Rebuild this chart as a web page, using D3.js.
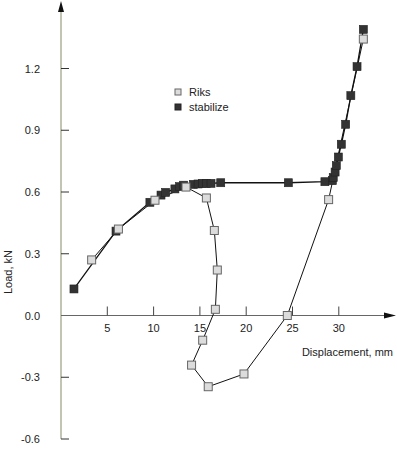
<!DOCTYPE html>
<html lang="en">
<head>
    <meta charset="UTF-8">
    <title>Load vs Displacement</title>
    <script src="https://d3js.org/d3.v7.min.js"></script>
    <style>
        body { margin: 0; background: #fff; }
        svg { display: block; font-family: 'Liberation Sans', Arial, sans-serif; }
    </style>
</head>
<body>
    <svg width="397" height="450"></svg>
    <script>
        // Riks path (displacement mm, load kN)
        const riksDisp = [3.31, 6.2, 10.15, 13.5, 15.7, 16.56, 16.88, 16.67, 15.3, 14.1, 15.9, 19.76, 24.44, 28.9, 32.65];
        const riksLoad = [0.27, 0.42, 0.56, 0.624, 0.571, 0.413, 0.221, 0.03, -0.12, -0.241, -0.346, -0.284, 0.0, 0.563, 1.343];

        // stabilize path
        const stabDisp = [1.4, 5.94, 9.6, 10.8, 11.3, 12.3, 12.8, 13.25, 14.3, 14.8, 15.3, 15.7, 16.2, 17.25, 24.55, 28.5, 29.3, 29.4, 29.6, 29.73, 29.95, 30.27, 30.74, 31.3, 31.97, 32.65];
        const stabLoad = [0.129, 0.41, 0.55, 0.585, 0.598, 0.615, 0.626, 0.633, 0.637, 0.639, 0.642, 0.642, 0.642, 0.645, 0.645, 0.65, 0.655, 0.67, 0.697, 0.728, 0.77, 0.832, 0.929, 1.068, 1.209, 1.39];

        const xTicks = [5, 10, 15, 20, 25, 30];
        const yTicks = [1.2, 0.9, 0.6, 0.3, 0.0, -0.3, -0.6];

        const svg = d3.select("svg");

        const x = d3.scaleLinear().domain([0, 30]).range([61, 338.8]);
        const y = d3.scaleLinear().domain([-0.6, 1.2]).range([439, 68.5]);

        const x0 = x(0), y0 = y(0);

        // y axis (light beige line with arrow)
        svg.append("line")
            .attr("x1", x0).attr("x2", x0)
            .attr("y1", 10).attr("y2", y(-0.6))
            .attr("stroke", "#c4c4b4").attr("stroke-width", 2);
        svg.append("path")
            .attr("d", `M${x0},1 L${x0 - 3},12 L${x0 + 3},12 Z`)
            .attr("fill", "#111");

        svg.selectAll(".ytick")
            .data(yTicks)
            .join("line")
            .attr("x1", x0).attr("x2", x0 + 8)
            .attr("y1", d => y(d)).attr("y2", d => y(d))
            .attr("stroke", "#333").attr("stroke-width", 1);

        svg.selectAll(".ylab")
            .data(yTicks)
            .join("text")
            .attr("x", 40)
            .attr("y", d => y(d) + 4)
            .attr("text-anchor", "end")
            .attr("font-size", 11)
            .attr("fill", "#222")
            .text(d => d.toFixed(1));

        // x axis with arrow
        svg.append("line")
            .attr("x1", x0).attr("x2", 388)
            .attr("y1", y0).attr("y2", y0)
            .attr("stroke", "#666").attr("stroke-width", 1);
        svg.append("path")
            .attr("d", `M396,${y0} L384,${y0 - 3} L384,${y0 + 3} Z`)
            .attr("fill", "#111");

        svg.selectAll(".xtick")
            .data(xTicks)
            .join("line")
            .attr("x1", d => x(d)).attr("x2", d => x(d))
            .attr("y1", y0).attr("y2", y0 - 9)
            .attr("stroke", "#444").attr("stroke-width", 1);

        svg.selectAll(".xlab")
            .data(xTicks)
            .join("text")
            .attr("x", d => x(d))
            .attr("y", y0 + 16)
            .attr("text-anchor", "middle")
            .attr("font-size", 11)
            .attr("fill", "#222")
            .text(d => d);

        svg.append("text")
            .attr("x", 393).attr("y", 356)
            .attr("text-anchor", "end")
            .attr("font-size", 11)
            .attr("fill", "#222")
            .text("Displacement, mm");

        svg.append("text")
            .attr("transform", "translate(12,272) rotate(-90)")
            .attr("text-anchor", "middle")
            .attr("font-size", 11)
            .attr("fill", "#222")
            .text("Load, kN");

        // series
        const riks = riksDisp.map((d, i) => [d, riksLoad[i]]);
        const stab = stabDisp.map((d, i) => [d, stabLoad[i]]);

        const line = d3.line().x(d => x(d[0])).y(d => y(d[1]));

        svg.append("path")
            .datum(stab)
            .attr("d", line)
            .attr("fill", "none")
            .attr("stroke", "#111")
            .attr("stroke-width", 1.3);

        svg.append("path")
            .datum(riks)
            .attr("d", line)
            .attr("fill", "none")
            .attr("stroke", "#111")
            .attr("stroke-width", 1);

        const sq = 8;
        svg.selectAll(".stab")
            .data(stab)
            .join("rect")
            .attr("x", d => x(d[0]) - sq / 2)
            .attr("y", d => y(d[1]) - sq / 2)
            .attr("width", sq).attr("height", sq)
            .attr("fill", "#333")
            .attr("stroke", "#222").attr("stroke-width", 0.6);

        svg.selectAll(".riks")
            .data(riks)
            .join("rect")
            .attr("x", d => x(d[0]) - sq / 2)
            .attr("y", d => y(d[1]) - sq / 2)
            .attr("width", sq).attr("height", sq)
            .attr("fill", "#dcdcdc")
            .attr("stroke", "#666").attr("stroke-width", 1);

        // legend
        const legend = [
            { name: "Riks", fill: "#dcdcdc", stroke: "#666" },
            { name: "stabilize", fill: "#333", stroke: "#222" }
        ];
        const lg = svg.selectAll(".leg")
            .data(legend)
            .join("g")
            .attr("transform", (d, i) => `translate(178,${92 + i * 15})`);
        lg.append("rect")
            .attr("x", -3).attr("y", -3)
            .attr("width", 6).attr("height", 6)
            .attr("fill", d => d.fill)
            .attr("stroke", d => d.stroke);
        lg.append("text")
            .attr("x", 11).attr("y", 4)
            .attr("font-size", 11)
            .attr("fill", "#222")
            .text(d => d.name);
    </script>
</body>
</html>
